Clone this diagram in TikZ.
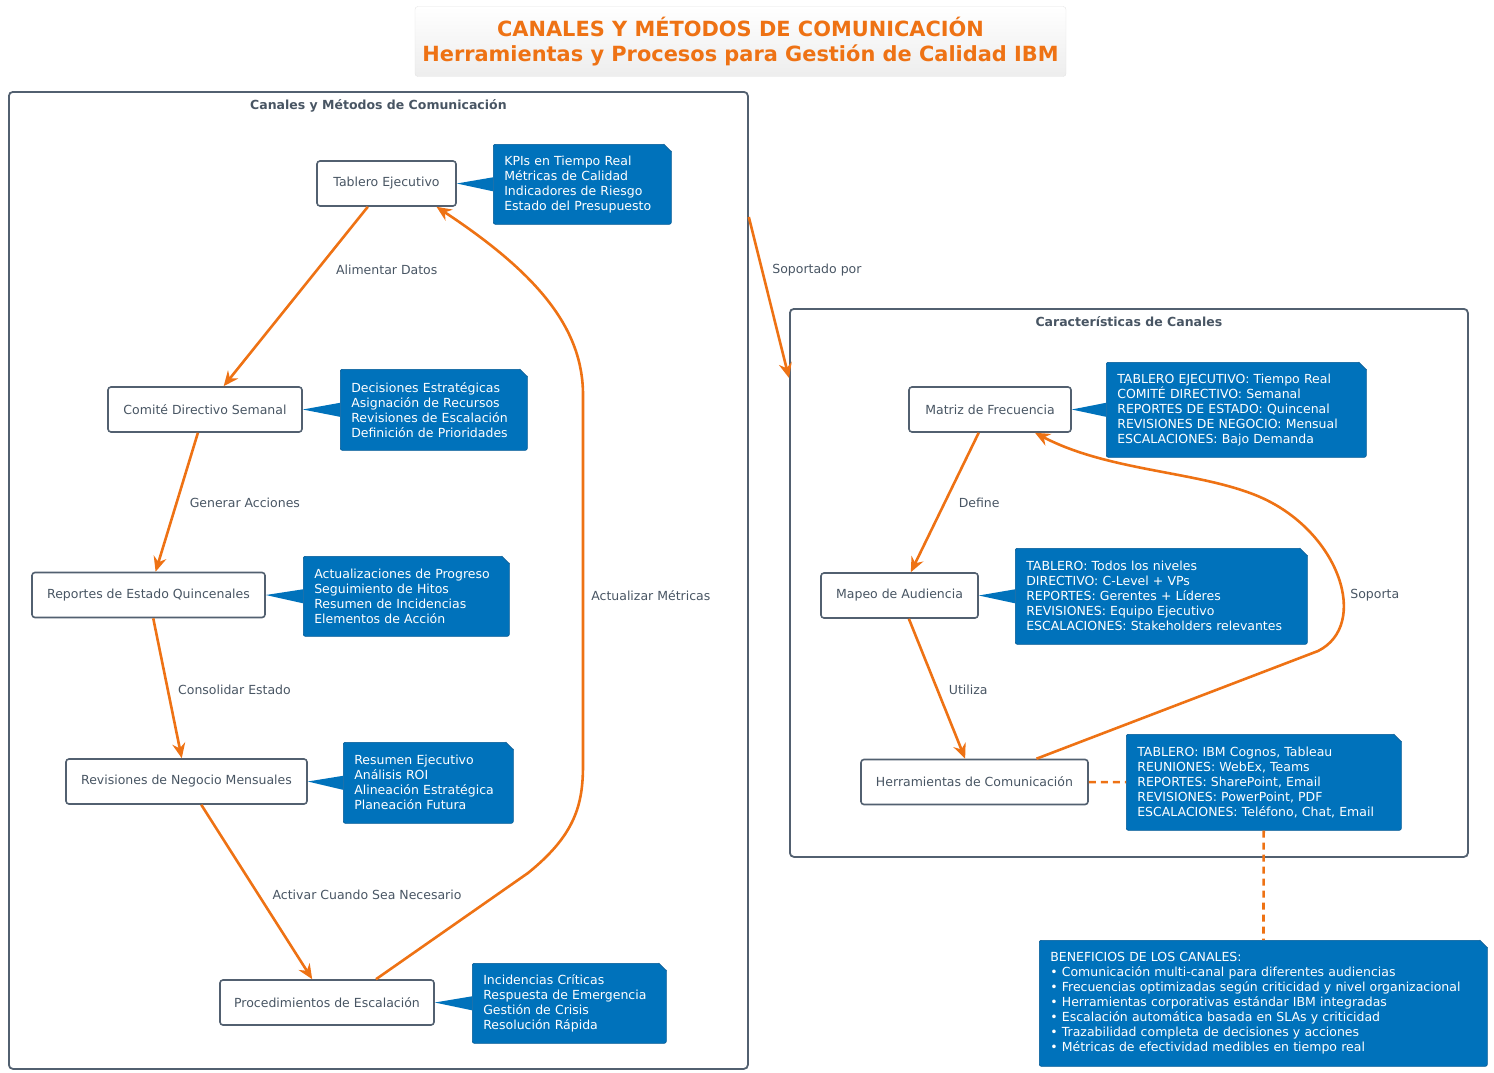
\documentclass[tikz,border=0pt]{standalone}
\usepackage{fontspec}
\setmainfont{DejaVu Sans}
\usetikzlibrary{arrows.meta}

\definecolor{ibmorange}{RGB}{238,114,20}
\definecolor{slate}{RGB}{82,96,112}
\definecolor{slatetext}{RGB}{72,85,99}
\definecolor{noteblue}{RGB}{0,114,187}
\definecolor{notedark}{RGB}{0,88,148}
\def\fold{8pt}

\begin{document}
\begin{tikzpicture}[x=1pt,y=-1pt,font=\fontsize{12.5}{15}\selectfont,text=slatetext]
  \tikzstyle{package}=[draw=slate, line width=1.8pt, rounded corners=4pt, anchor=north west, inner sep=0pt]
  \tikzstyle{pkgtitle}=[anchor=north, inner sep=0pt, yshift=-8pt, font=\bfseries\fontsize{12.5}{15}\selectfont, text=slatetext]
  \tikzstyle{channel}=[draw=slate, line width=1.6pt, fill=white, rounded corners=3pt, minimum height=45pt, inner xsep=14pt]
  \tikzstyle{note}=[fill=noteblue, draw=notedark, line width=0.6pt, rounded corners=2pt, text=white, align=left, anchor=north west, inner xsep=11pt, inner ysep=0pt]
  \tikzstyle{flow}=[draw=ibmorange, line width=2.6pt, -{Stealth[length=15pt,width=13pt,inset=5pt]}]
  \tikzstyle{link}=[draw=ibmorange, line width=2.6pt, dash pattern=on 7pt off 5pt]
  \tikzstyle{lbl}=[anchor=west, inner sep=0pt, text=slatetext]
  \tikzstyle{header}=[font=\bfseries\fontsize{20.9}{25.5}\selectfont, text=ibmorange, align=center, minimum width=651pt, minimum height=70pt, top color=white, bottom color=gray!14, draw=gray!22, rounded corners=3pt]

  \useasboundingbox (0,0) rectangle (1494,1073);

  % Title
  \node[header] (title) at (740.5,41.5) {CANALES Y MÉTODOS DE COMUNICACIÓN\\Herramientas y Procesos para Gestión de Calidad IBM};

  % Draw the two packages
  \node[package, minimum width=739pt, minimum height=977pt,
        label={[pkgtitle]north:Canales y Métodos de Comunicación}] (pkgL) at (8,91) {};
  \node[package, minimum width=678pt, minimum height=548pt,
        label={[pkgtitle]north:Características de Canales}] (pkgR) at (789,308) {};

  % Draw the channel nodes
  \node[channel, minimum width=139pt] (t1) at (386.5,183.5) {Tablero Ejecutivo};
  \node[channel, minimum width=194pt] (t2) at (205,409.5) {Comité Directivo Semanal};
  \node[channel, minimum width=233pt] (t3) at (148.5,595) {Reportes de Estado Quincenales};
  \node[channel, minimum width=241pt] (t4) at (186.5,781.5) {Revisiones de Negocio Mensuales};
  \node[channel, minimum width=214pt] (t5) at (327,1002.5) {Procedimientos de Escalación};

  \node[channel, minimum width=162pt] (c1) at (990,409.5) {Matriz de Frecuencia};
  \node[channel, minimum width=157pt] (c2) at (899.5,595.5) {Mapeo de Audiencia};
  \node[channel, minimum width=227pt] (c3) at (974.5,782) {Herramientas de Comunicación};

  % Draw the notes
  \node[note, text width=156pt, minimum height=80pt] (n1) at (493,144)
    {KPIs en Tiempo Real\\Métricas de Calidad\\Indicadores de Riesgo\\Estado del Presupuesto};
  \node[note, text width=165pt, minimum height=81pt] (n2) at (340,369)
    {Decisiones Estratégicas\\Asignación de Recursos\\Revisiones de Escalación\\Definición de Prioridades};
  \node[note, text width=184pt, minimum height=80pt] (n3) at (303,556)
    {Actualizaciones de Progreso\\Seguimiento de Hitos\\Resumen de Incidencias\\Elementos de Acción};
  \node[note, text width=148pt, minimum height=81pt] (n4) at (343,742)
    {Resumen Ejecutivo\\Análisis ROI\\Alineación Estratégica\\Planeación Futura};
  \node[note, text width=172pt, minimum height=80pt] (n5) at (472,963)
    {Incidencias Críticas\\Respuesta de Emergencia\\Gestión de Crisis\\Resolución Rápida};

  \node[note, text width=238pt, minimum height=95pt] (nf) at (1106,362)
    {TABLERO EJECUTIVO: Tiempo Real\\COMITÉ DIRECTIVO: Semanal\\REPORTES DE ESTADO: Quincenal\\REVISIONES DE NEGOCIO: Mensual\\ESCALACIONES: Bajo Demanda};
  \node[note, text width=270pt, minimum height=96pt] (na) at (1015,548)
    {TABLERO: Todos los niveles\\DIRECTIVO: C-Level + VPs\\REPORTES: Gerentes + Líderes\\REVISIONES: Equipo Ejecutivo\\ESCALACIONES: Stakeholders relevantes};
  \node[note, text width=253pt, minimum height=96pt] (nh) at (1126,734)
    {TABLERO: IBM Cognos, Tableau\\REUNIONES: WebEx, Teams\\REPORTES: SharePoint, Email\\REVISIONES: PowerPoint, PDF\\ESCALACIONES: Teléfono, Chat, Email};
  \node[note, text width=426pt, minimum height=126pt] (nb) at (1039,940)
    {BENEFICIOS DE LOS CANALES:\\• Comunicación multi-canal para diferentes audiencias\\• Frecuencias optimizadas según criticidad y nivel organizacional\\• Herramientas corporativas estándar IBM integradas\\• Escalación automática basada en SLAs y criticidad\\• Trazabilidad completa de decisiones y acciones\\• Métricas de efectividad medibles en tiempo real};

  % Folded corners of the notes
  \foreach \nt in {n1,n2,n3,n4,n5,nf,na,nh,nb}
  {
    \fill[white] ([xshift=-\fold]\nt.north east) -- ([xshift=1pt,yshift=1pt]\nt.north east) -- ([yshift=-\fold]\nt.north east) -- cycle;
    \draw[notedark, line width=0.6pt] ([xshift=-\fold]\nt.north east) -- ([yshift=-\fold]\nt.north east);
  }

  % Connect every channel with its note
  \foreach \src/\nt in {t1/n1,t2/n2,t3/n3,t4/n4,t5/n5,c1/nf,c2/na}
      \fill[noteblue] (\src.east) -- ([yshift=7pt]\nt.west) -- ([yshift=-7pt]\nt.west) -- cycle;
  \draw[link] (c3) -- (nh);
  \draw[link] (nh) -- (nb);

  % Flow between the channels
  \draw[flow] (t1) -- node[lbl, pos=0.354, xshift=18pt] {Alimentar Datos} (t2);
  \draw[flow] (t2) -- node[lbl, pos=0.507, xshift=12pt] {Generar Acciones} (t3);
  \draw[flow] (t3) -- node[lbl, pos=0.512, xshift=9pt] {Consolidar Estado} (t4);
  \draw[flow] (t4) -- node[lbl, pos=0.514, xshift=13pt] {Activar Cuando Sea Necesario} (t5);
  \draw[flow] ([xshift=49pt]t5.north) -- (528,873) .. controls (575,835) and (583,805) .. (583,765)
      -- node[lbl, pos=0.457, xshift=7pt] {Actualizar Métricas} (583,395)
      .. controls (583,330) and (540,275) .. ([xshift=50pt]t1.south);

  \draw[flow] ([yshift=-126pt]pkgL.north east) -- node[lbl, pos=0.33, xshift=9pt] {Soportado por} ([yshift=-70pt]pkgR.north west);

  \draw[flow] (c1) -- node[lbl, pos=0.504, xshift=13pt] {Define} (c2);
  \draw[flow] (c2) -- node[lbl, pos=0.51, xshift=10pt] {Utiliza} (c3);
  \draw[flow] ([xshift=62pt]c3.north) -- (1318,651) .. controls (1370,625) and (1340,532) ..
      node[lbl, pos=0.4, xshift=6pt] {Soporta} (1260,497)
      .. controls (1200,471) and (1110,472) .. ([xshift=45pt]c1.south);
\end{tikzpicture}
\end{document}
